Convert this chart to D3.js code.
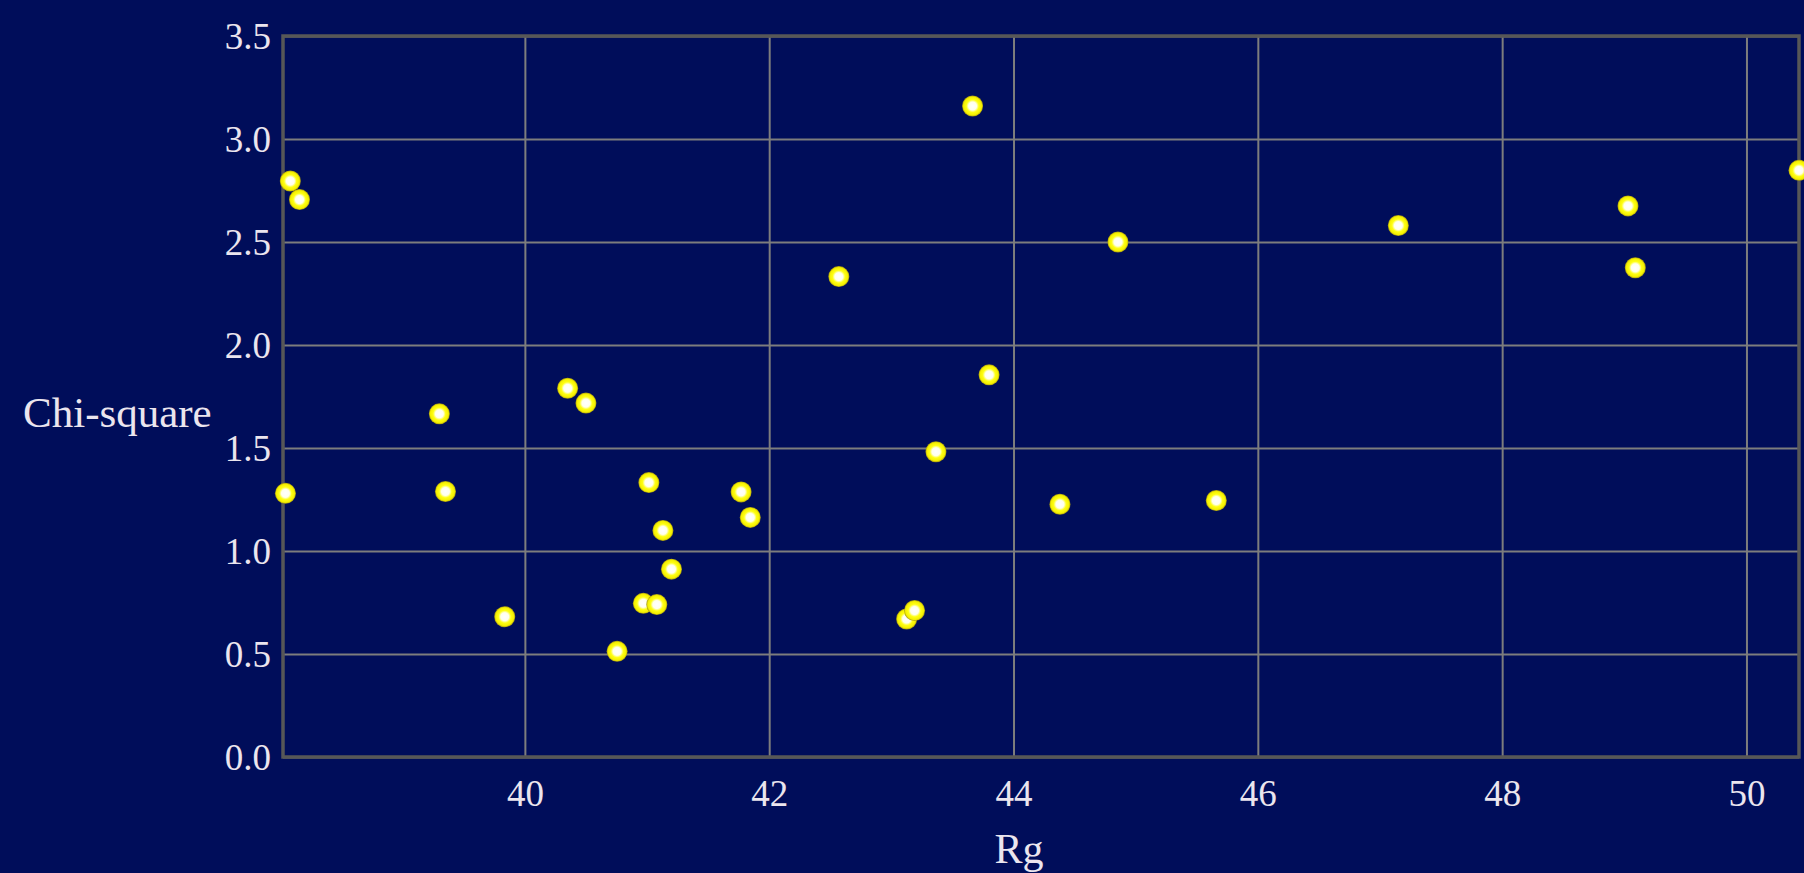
<!DOCTYPE html>
<html>
<head>
<meta charset="utf-8">
<script src="https://cdn.jsdelivr.net/npm/d3@7"></script>
<style>
  html, body { margin: 0; padding: 0; background: #000d5a; }
  svg { display: block; }
  text { font-family: "Liberation Serif", "DejaVu Serif", serif; fill: #ebe5ee; }
</style>
</head>
<body>
<svg id="chart" width="1804" height="873"></svg>
<script>
// Radius of gyration vs. chi-square of each fit
const rg = [38.08, 38.155, 38.04, 39.30, 39.35, 39.835, 40.35, 40.50, 40.755, 40.97,
            41.08, 41.015, 41.13, 41.20, 41.77, 41.845, 42.57, 43.125, 43.19, 43.365,
            43.665, 43.80, 44.38, 44.855, 45.66, 47.15, 49.03, 49.09, 50.43];
const chiSquare = [2.796, 2.706, 1.280, 1.666, 1.289, 0.681, 1.790, 1.718, 0.513, 0.746,
                   0.740, 1.332, 1.100, 0.912, 1.287, 1.163, 2.332, 0.670, 0.711, 1.482,
                   3.160, 1.855, 1.227, 2.500, 1.245, 2.580, 2.675, 2.375, 2.848];
const xDomain = [38.02, 50.43];
const yDomain = [0, 3.5];
const xTicks = [40, 42, 44, 46, 48, 50];
const yTicks = [0, 0.5, 1.0, 1.5, 2.0, 2.5, 3.0, 3.5];
const xTitle = "Rg";
const yTitle = "Chi-square";

const points = rg.map((r, i) => ({ x: r, y: chiSquare[i] }));

const svg = d3.select("#chart");
const plot = { left: 283, right: 1799, top: 36, bottom: 757 };

const x = d3.scaleLinear().domain(xDomain).range([plot.left, plot.right]);
const y = d3.scaleLinear().domain(yDomain).range([plot.bottom, plot.top]);

// dot fill: white core fading into yellow
const defs = svg.append("defs");
const grad = defs.append("radialGradient").attr("id", "dot");
grad.append("stop").attr("offset", "0%").attr("stop-color", "#ffffff");
grad.append("stop").attr("offset", "38%").attr("stop-color", "#ffffee");
grad.append("stop").attr("offset", "60%").attr("stop-color", "#ffff14");
grad.append("stop").attr("offset", "86%").attr("stop-color", "#f4ef00");
grad.append("stop").attr("offset", "100%").attr("stop-color", "#a09212");

// grid lines
const xAxis = d3.axisBottom(x).tickValues(xTicks).tickFormat(d3.format("d"))
  .tickSize(-(plot.bottom - plot.top)).tickPadding(15);
const yAxis = d3.axisLeft(y).tickValues(yTicks).tickFormat(d3.format(".1f"))
  .tickSize(-(plot.right - plot.left)).tickPadding(12);

const gx = svg.append("g").attr("transform", `translate(0,${plot.bottom})`).call(xAxis);
const gy = svg.append("g").attr("transform", `translate(${plot.left},0)`).call(yAxis);

[gx, gy].forEach(g => {
  g.select(".domain").remove();
  g.selectAll(".tick line").attr("stroke", "#7d7d7d").attr("stroke-width", 2);
  g.selectAll(".tick text").attr("font-size", 37).attr("fill", "#ebe5ee")
    .attr("font-family", "'Liberation Serif', serif");
});
gx.selectAll(".tick text").attr("dy", "0.93em");
gy.selectAll(".tick text").attr("dy", "0.34em");

// plot frame
svg.append("rect")
  .attr("x", plot.left).attr("y", plot.top)
  .attr("width", plot.right - plot.left).attr("height", plot.bottom - plot.top)
  .attr("fill", "none").attr("stroke", "#575757").attr("stroke-width", 3.5);

// axis titles
svg.append("text")
  .attr("x", 1019).attr("y", 863)
  .attr("text-anchor", "middle").attr("font-size", 42)
  .text(xTitle);
svg.append("text")
  .attr("x", 23).attr("y", 427)
  .attr("text-anchor", "start").attr("font-size", 43)
  .text(yTitle);

// data points
svg.append("g").selectAll("circle").data(points).join("circle")
  .attr("cx", d => x(d.x))
  .attr("cy", d => y(d.y))
  .attr("r", 10.5)
  .attr("fill", "url(#dot)");
</script>
</body>
</html>
